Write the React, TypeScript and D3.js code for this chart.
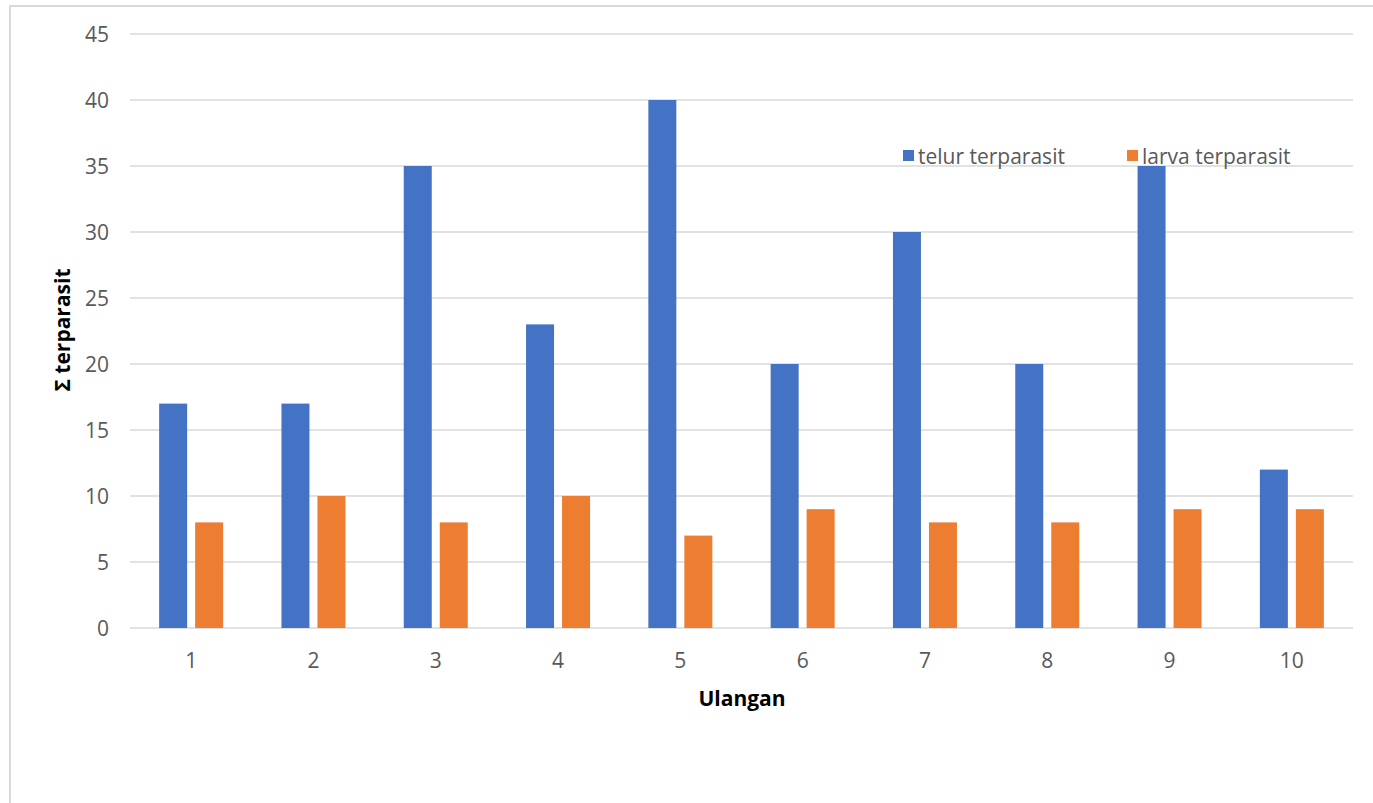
import React from "react";
import * as d3 from "d3";

// Replicates per "Ulangan" and counts of parasitized eggs / larvae
const categories = ["1", "2", "3", "4", "5", "6", "7", "8", "9", "10"];
const telurValues = [17, 17, 35, 23, 40, 20, 30, 20, 35, 12];
const larvaValues = [8, 10, 8, 10, 7, 9, 8, 8, 9, 9];
const yTicks = [0, 5, 10, 15, 20, 25, 30, 35, 40, 45];
const seriesNames = ["telur terparasit", "larva terparasit"];
const seriesColors = ["#4472C4", "#ED7D31"];

const W = 1373;
const H = 803;
const plot = { left: 130, right: 1353, top: 34, bottom: 628 };
const FONT = "'Open Sans', 'Liberation Sans', sans-serif";

export default function App() {
  const x = d3
    .scaleBand<string>()
    .domain(categories)
    .range([plot.left, plot.right])
    .paddingInner(0)
    .paddingOuter(0);
  const y = d3.scaleLinear().domain([0, 45]).range([plot.bottom, plot.top]);

  const barW = 28;
  const gap = 8;
  const series = [telurValues, larvaValues];

  return (
    <svg
      width={W}
      height={H}
      style={{ position: "absolute", left: 0, top: 0, background: "#fff" }}
      fontFamily={FONT}
    >
      {/* chart frame */}
      <rect x={10} y={6} width={W + 20} height={H + 20} fill="#fff" stroke="#d9d9d9" strokeWidth={2} />

      {/* gridlines */}
      {yTicks.map((t) => (
        <line
          key={t}
          x1={plot.left}
          x2={plot.right}
          y1={y(t)}
          y2={y(t)}
          stroke="#d9d9d9"
          strokeWidth={1.5}
        />
      ))}

      {/* y tick labels */}
      {yTicks.map((t) => (
        <text
          key={"yl" + t}
          x={109}
          y={y(t)}
          dy="0.36em"
          textAnchor="end"
          fontSize={21}
          fill="#595959"
        >
          {t}
        </text>
      ))}

      {/* bars */}
      {categories.map((c, i) => {
        const cx = (x(c) as number) + x.bandwidth() / 2;
        return series.map((vals, s) => {
          const bx = s === 0 ? cx - gap / 2 - barW : cx + gap / 2;
          return (
            <rect
              key={c + "-" + s}
              x={bx}
              y={y(vals[i])}
              width={barW}
              height={y(0) - y(vals[i])}
              fill={seriesColors[s]}
            />
          );
        });
      })}

      {/* x tick labels */}
      {categories.map((c) => (
        <text
          key={"xl" + c}
          x={(x(c) as number) + x.bandwidth() / 2}
          y={660}
          dy="0.36em"
          textAnchor="middle"
          fontSize={21}
          fill="#595959"
        >
          {c}
        </text>
      ))}

      {/* axis titles */}
      <text x={742} y={698} dy="0.36em" textAnchor="middle" fontSize={21} fontWeight="bold" fill="#000">
        Ulangan
      </text>
      <text
        transform={`translate(62,330) rotate(-90)`}
        dy="0.36em"
        textAnchor="middle"
        fontSize={21}
        fontWeight="bold"
        fill="#000"
      >
        Σ terparasit
      </text>

      {/* legend */}
      {seriesNames.map((name, s) => {
        const lx = s === 0 ? 903 : 1127;
        return (
          <g key={name}>
            <rect x={lx} y={150} width={11} height={11} fill={seriesColors[s]} />
            <text x={lx + 15} y={156} dy="0.36em" fontSize={21} fill="#595959">
              {name}
            </text>
          </g>
        );
      })}
    </svg>
  );
}
